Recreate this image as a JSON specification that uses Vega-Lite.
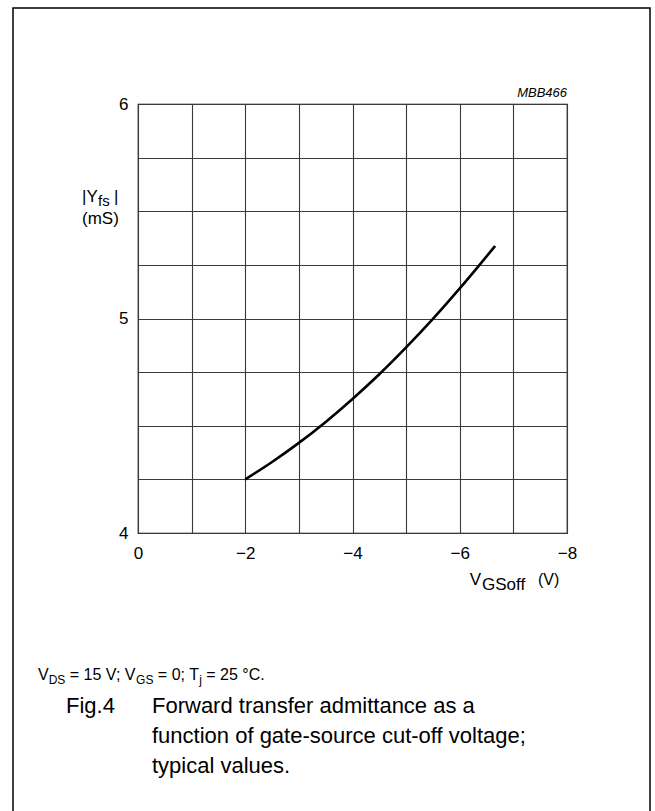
{
  "$schema": "https://vega.github.io/schema/vega-lite/v6.json",
  "width": 429,
  "height": 429,
  "autosize": {"type": "none"},
  "padding": {"left": 138, "top": 104, "right": 88, "bottom": 278},
  "background": "white",
  "config": {
    "view": {"stroke": "black", "strokeWidth": 1.2},
    "font": "Liberation Sans",
    "text": {"font": "Liberation Sans", "color": "black", "baseline": "alphabetic"}
  },
  "layer": [
    {
      "data": {"values": [{"label": "frame"}]},
      "mark": {"type": "rect", "fill": null, "fillOpacity": 0, "stroke": "black", "strokeWidth": 1.5},
      "encoding": {
        "x": {"datum": 2.331, "type": "quantitative", "scale": {"domain": [0, -8], "nice": false, "zero": false}},
        "x2": {"datum": -9.548},
        "y": {"datum": 6.4476, "type": "quantitative", "scale": {"domain": [4, 6], "nice": false, "zero": false}},
        "y2": {"datum": 2.6853}
      }
    },
    {
      "data": {"values": [
        {"vgsoff": -2.0, "yfs": 4.25},
        {"vgsoff": -2.5, "yfs": 4.331},
        {"vgsoff": -3.0, "yfs": 4.42},
        {"vgsoff": -3.5, "yfs": 4.518},
        {"vgsoff": -4.0, "yfs": 4.625},
        {"vgsoff": -4.5, "yfs": 4.74},
        {"vgsoff": -5.0, "yfs": 4.865},
        {"vgsoff": -5.5, "yfs": 4.998},
        {"vgsoff": -6.0, "yfs": 5.14},
        {"vgsoff": -6.3, "yfs": 5.229},
        {"vgsoff": -6.66, "yfs": 5.338}
      ]},
      "mark": {"type": "line", "color": "black", "strokeWidth": 2.6, "interpolate": "monotone"},
      "encoding": {
        "x": {
          "field": "vgsoff", "type": "quantitative",
          "scale": {"domain": [0, -8], "nice": false, "zero": false},
          "axis": {
            "values": [0, -1, -2, -3, -4, -5, -6, -7, -8],
            "title": null, "grid": true, "gridColor": "#3a3a3a", "gridWidth": 1.1,
            "ticks": false, "domain": false,
            "labelExpr": "datum.value % 2 == 0 ? (datum.value < 0 ? '\u2212' + abs(datum.value) : '0') : ''",
            "labelFontSize": 17, "labelColor": "black", "labelFont": "Liberation Sans",
            "labelPadding": 12, "labelFlush": false, "labelOverlap": false
          }
        },
        "y": {
          "field": "yfs", "type": "quantitative",
          "scale": {"domain": [4, 6], "nice": false, "zero": false},
          "axis": {
            "values": [4, 4.25, 4.5, 4.75, 5, 5.25, 5.5, 5.75, 6],
            "title": null, "grid": true, "gridColor": "#3a3a3a", "gridWidth": 1.1,
            "ticks": false, "domain": false,
            "labelExpr": "datum.value % 1 == 0 ? format(datum.value, 'd') : ''",
            "labelFontSize": 17, "labelColor": "black", "labelFont": "Liberation Sans",
            "labelPadding": 10, "labelFlush": false, "labelOverlap": false
          }
        }
      }
    },
    {
      "data": {"values": [{"label": "MBB466"}]},
      "mark": {"type": "text", "align": "right", "fontSize": 13, "fontStyle": "italic"},
      "encoding": {"x": {"datum": -8.0, "type": "quantitative"}, "y": {"datum": 6.0326, "type": "quantitative"}, "text": {"field": "label"}}
    },
    {
      "data": {"values": [{"label": "|Y"}]},
      "mark": {"type": "text", "align": "left", "fontSize": 17},
      "encoding": {"x": {"datum": 1.0443, "type": "quantitative"}, "y": {"datum": 5.5431, "type": "quantitative"}, "text": {"field": "label"}}
    },
    {
      "data": {"values": [{"label": "fs"}]},
      "mark": {"type": "text", "align": "left", "fontSize": 15},
      "encoding": {"x": {"datum": 0.745, "type": "quantitative"}, "y": {"datum": 5.5245, "type": "quantitative"}, "text": {"field": "label"}}
    },
    {
      "data": {"values": [{"label": "|"}]},
      "mark": {"type": "text", "align": "left", "fontSize": 17},
      "encoding": {"x": {"datum": 0.4476, "type": "quantitative"}, "y": {"datum": 5.5431, "type": "quantitative"}, "text": {"field": "label"}}
    },
    {
      "data": {"values": [{"label": "(mS)"}]},
      "mark": {"type": "text", "align": "left", "fontSize": 17},
      "encoding": {"x": {"datum": 1.0443, "type": "quantitative"}, "y": {"datum": 5.4406, "type": "quantitative"}, "text": {"field": "label"}}
    },
    {
      "data": {"values": [{"label": "V"}]},
      "mark": {"type": "text", "align": "right", "fontSize": 17},
      "encoding": {"x": {"datum": -6.3963, "type": "quantitative"}, "y": {"datum": 3.7576, "type": "quantitative"}, "text": {"field": "label"}}
    },
    {
      "data": {"values": [{"label": "GSoff"}]},
      "mark": {"type": "text", "align": "left", "fontSize": 17},
      "encoding": {"x": {"datum": -6.4149, "type": "quantitative"}, "y": {"datum": 3.7343, "type": "quantitative"}, "text": {"field": "label"}}
    },
    {
      "data": {"values": [{"label": "(V)"}]},
      "mark": {"type": "text", "align": "left", "fontSize": 16},
      "encoding": {"x": {"datum": -7.4592, "type": "quantitative"}, "y": {"datum": 3.7576, "type": "quantitative"}, "text": {"field": "label"}}
    },
    {
      "data": {"values": [{"label": "V"}]},
      "mark": {"type": "text", "align": "left", "fontSize": 16},
      "encoding": {"x": {"datum": 1.8648, "type": "quantitative"}, "y": {"datum": 3.3147, "type": "quantitative"}, "text": {"field": "label"}}
    },
    {
      "data": {"values": [{"label": "DS"}]},
      "mark": {"type": "text", "align": "left", "fontSize": 12},
      "encoding": {"x": {"datum": 1.6658, "type": "quantitative"}, "y": {"datum": 3.2960, "type": "quantitative"}, "text": {"field": "label"}}
    },
    {
      "data": {"values": [{"label": "= 15 V; V"}]},
      "mark": {"type": "text", "align": "left", "fontSize": 16},
      "encoding": {"x": {"datum": 1.2720, "type": "quantitative"}, "y": {"datum": 3.3147, "type": "quantitative"}, "text": {"field": "label"}}
    },
    {
      "data": {"values": [{"label": "GS"}]},
      "mark": {"type": "text", "align": "left", "fontSize": 12},
      "encoding": {"x": {"datum": 0.0358, "type": "quantitative"}, "y": {"datum": 3.2960, "type": "quantitative"}, "text": {"field": "label"}}
    },
    {
      "data": {"values": [{"label": "= 0; T"}]},
      "mark": {"type": "text", "align": "left", "fontSize": 16},
      "encoding": {"x": {"datum": -0.3702, "type": "quantitative"}, "y": {"datum": 3.3147, "type": "quantitative"}, "text": {"field": "label"}}
    },
    {
      "data": {"values": [{"label": "j"}]},
      "mark": {"type": "text", "align": "left", "fontSize": 12},
      "encoding": {"x": {"datum": -1.1415, "type": "quantitative"}, "y": {"datum": 3.2960, "type": "quantitative"}, "text": {"field": "label"}}
    },
    {
      "data": {"values": [{"label": "= 25 \u00b0C."}]},
      "mark": {"type": "text", "align": "left", "fontSize": 16},
      "encoding": {"x": {"datum": -1.2740, "type": "quantitative"}, "y": {"datum": 3.3147, "type": "quantitative"}, "text": {"field": "label"}}
    },
    {
      "data": {"values": [{"label": "Fig.4"}]},
      "mark": {"type": "text", "align": "left", "fontSize": 22},
      "encoding": {"x": {"datum": 1.3427, "type": "quantitative"}, "y": {"datum": 3.1608, "type": "quantitative"}, "text": {"field": "label"}}
    },
    {
      "data": {"values": [{"label": "Forward transfer admittance as a"}]},
      "mark": {"type": "text", "align": "left", "fontSize": 22},
      "encoding": {"x": {"datum": -0.2611, "type": "quantitative"}, "y": {"datum": 3.1608, "type": "quantitative"}, "text": {"field": "label"}}
    },
    {
      "data": {"values": [{"label": "function of gate-source cut-off voltage;"}]},
      "mark": {"type": "text", "align": "left", "fontSize": 22},
      "encoding": {"x": {"datum": -0.2611, "type": "quantitative"}, "y": {"datum": 3.0210, "type": "quantitative"}, "text": {"field": "label"}}
    },
    {
      "data": {"values": [{"label": "typical values."}]},
      "mark": {"type": "text", "align": "left", "fontSize": 22},
      "encoding": {"x": {"datum": -0.2611, "type": "quantitative"}, "y": {"datum": 2.8811, "type": "quantitative"}, "text": {"field": "label"}}
    }
  ]
}
